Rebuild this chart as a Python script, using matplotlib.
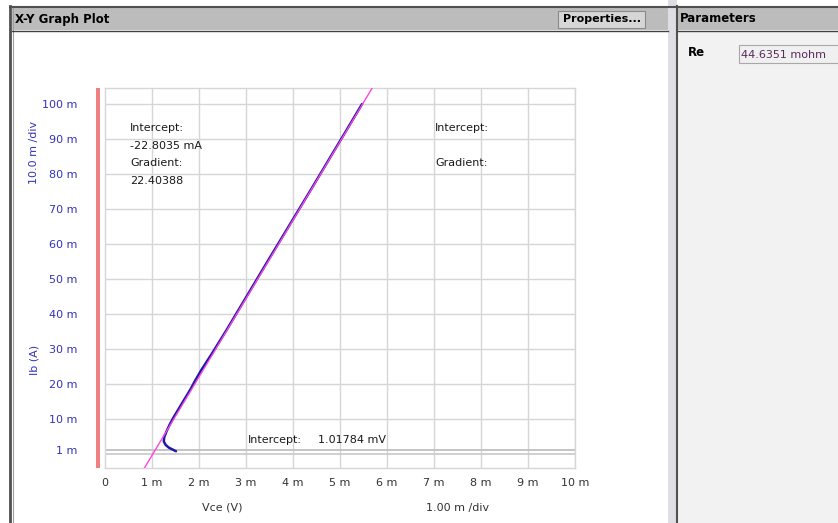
import numpy as np
import matplotlib
matplotlib.use("Agg")
import matplotlib.pyplot as plt
from matplotlib.patches import Rectangle

############################################################### DATA ########

# measured curve, Vce in mV, Ib in mA
vce = [1.51, 1.45, 1.36, 1.29, 1.25, 1.26, 1.31, 1.38, 1.46, 1.55, 1.64, 1.73,
       1.82, 1.92, 2.05, 2.29, 2.59, 2.99, 3.48, 3.93, 4.38, 4.87, 5.16, 5.47]
ib = [0.8, 1.2, 1.8, 2.6, 3.6, 4.8, 6.5, 8.5, 10.5, 12.5, 14.5, 16.5,
      18.5, 21.0, 24.0, 29.0, 35.5, 44.5, 55.5, 65.5, 75.5, 86.5, 93.0, 100.0]

gradient = 22.40388        # mA / mV
intercept_i = -22.8035     # mA
intercept_v = 1.01784      # mV

x_ticks = [0, 1, 2, 3, 4, 5, 6, 7, 8, 9, 10]
x_labels = ['0', '1 m', '2 m', '3 m', '4 m', '5 m', '6 m', '7 m', '8 m', '9 m', '10 m']
y_ticks = [1, 10, 20, 30, 40, 50, 60, 70, 80, 90, 100]
y_labels = ['1 m', '10 m', '20 m', '30 m', '40 m', '50 m', '60 m', '70 m', '80 m', '90 m', '100 m']

re_value = '44.6351 mohm'

############################################################### FIGURE ######

W, H = 838, 523
plt.rcParams['font.family'] = 'DejaVu Sans'
fig = plt.figure(figsize=(W / 100, H / 100), dpi=100)
fig.patch.set_facecolor('white')

# background axes in pixel coords (y down)
bg = fig.add_axes([0, 0, 1, 1])
bg.set_xlim(0, W)
bg.set_ylim(H, 0)
bg.axis('off')

def rect(x0, y0, x1, y1, fc, ec='none', lw=0, z=1):
    bg.add_patch(Rectangle((x0, y0), x1 - x0, y1 - y0, facecolor=fc,
                           edgecolor=ec, linewidth=lw, zorder=z))

# left panel frame
bg.plot([10, 10], [6, H], color='#505050', lw=2, zorder=3)
bg.plot([12.5, 12.5], [8, H], color='#a0a0a0', lw=0.8, zorder=3)
bg.plot([10, W], [6.5, 6.5], color='#505050', lw=1.5, zorder=3)
rect(12, 8, 668, 30, '#bcbcbc')
bg.plot([12, 668], [30.5, 30.5], color='#404040', lw=1, zorder=3)
bg.text(15, 19, 'X-Y Graph Plot', fontsize=8.5, fontweight='bold', va='center', ha='left', zorder=4)

# properties button
rect(558, 11, 645, 28, '#d6d6d6', ec='#8a8a8a', lw=0.8, z=2)
bg.text(601.5, 19.5, 'Properties...', fontsize=8, fontweight='bold', va='center', ha='center', zorder=4)

# splitter
rect(668, 0, 677, H, '#dedee4')
bg.plot([676.5, 676.5], [6, H], color='#505050', lw=1.5, zorder=3)

# right panel
rect(678, 31, W, H, '#f2f2f2')
rect(678, 8, W, 30, '#bcbcbc')
bg.plot([678, W], [30.5, 30.5], color='#404040', lw=1, zorder=3)
bg.text(680, 19, 'Parameters', fontsize=8.5, fontweight='bold', va='center', ha='left', zorder=4)
bg.text(688, 52, 'Re', fontsize=8.5, fontweight='bold', va='center', ha='left', zorder=4)
rect(739, 45, W + 2, 63, '#f0f0f0', ec='#a8a8a8', lw=0.8, z=2)
bg.text(741, 54.5, re_value, fontsize=8, color='#5a2a5a', va='center', ha='left', zorder=4)

# red bar next to y axis
rect(96, 88, 100, 468, '#f08080', z=2)

############################################################### PLOT ########

L, R, T, B = 105, 575, 88, 468
ax = fig.add_axes([L / W, (H - B) / H, (R - L) / W, (B - T) / H])
ax.patch.set_alpha(0)
ax.set_xlim(0, 10)
ax.set_ylim(-4.0, 104.57)

ax.set_xticks(x_ticks)
ax.set_xticklabels(x_labels, fontsize=8, color='#333333')
ax.set_yticks(y_ticks)
ax.set_yticklabels(y_labels, fontsize=8, color='#3333bb')
ax.tick_params(length=0)
ax.tick_params(axis='x', pad=7)
ax.tick_params(axis='y', pad=20)

grid_c = '#d6d6d6'
for s in ax.spines.values():
    s.set_color(grid_c)
    s.set_linewidth(1)
for xv in x_ticks[1:]:
    ax.axvline(xv, color=grid_c, lw=1, zorder=1)
for yv in y_ticks:
    ax.axhline(yv, color=grid_c if yv != 1 else '#c4c4c4', lw=1 if yv != 1 else 1.4, zorder=1)
ax.axhline(0, color='#c8c8c8', lw=1.2, zorder=1)

# fitted line
xf = np.array([0, 10])
ax.plot(xf, gradient * xf + intercept_i, color='#ff44dd', lw=1, zorder=3)
# measured data
ax.plot(vce, ib, color='#1a1aa8', lw=1.8, zorder=2, solid_capstyle='round')

# annotations (pixel positions)
tk = dict(transform=bg.transData, fontsize=8, color='#1a1a1a', va='center', ha='left', zorder=5, clip_on=False)
ax.text(130, 128, 'Intercept:', **tk)
ax.text(130, 146, '-22.8035 mA', **tk)
ax.text(130, 163, 'Gradient:', **tk)
ax.text(130, 181, '22.40388', **tk)
ax.text(435, 128, 'Intercept:', **tk)
ax.text(435, 163, 'Gradient:', **tk)
ax.text(248, 440, 'Intercept:', **tk)
ax.text(318, 440, '1.01784 mV', **tk)

# axis captions
bg.text(34, 152, '10.0 m /div', rotation=90, fontsize=8, color='#3333bb', va='center', ha='center', zorder=4)
bg.text(34, 360, 'Ib (A)', rotation=90, fontsize=8, color='#3333bb', va='center', ha='center', zorder=4)
bg.text(222, 508, 'Vce (V)', fontsize=8, color='#333333', va='center', ha='center', zorder=4)
bg.text(458, 508, '1.00 m /div', fontsize=8, color='#333333', va='center', ha='center', zorder=4)

fig.savefig('out.png', dpi=100)
